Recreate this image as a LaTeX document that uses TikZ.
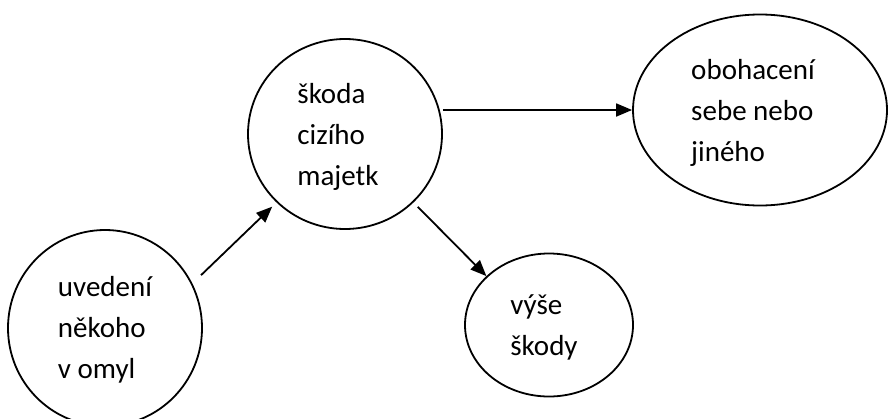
\documentclass[tikz,border=0pt]{standalone}
\usepackage{fontspec}
\setmainfont{Carlito}
\usetikzlibrary{shapes.geometric,arrows.meta}

\tikzset{every picture/.append style={x=1pt,y=-1pt}}
\tikzset{bubble/.style={draw, ellipse, line width=1.8pt, inner sep=0pt}}
\tikzset{words/.style={align=left, inner sep=0pt, font=\fontsize{29}{41}\selectfont}}
\tikzset{arrow/.style={line width=1.8pt, -{Triangle[length=16pt,width=13pt]}}}

\begin{document}
\begin{tikzpicture}
  \useasboundingbox (0,0) rectangle (888,418);
  \node[bubble, minimum width=194pt, minimum height=196pt] (uvedeni) at (105,328) {};
  \node[bubble, minimum width=194pt, minimum height=190pt] (skoda) at (345,134) {};
  \node[bubble, minimum width=254pt, minimum height=191pt] (obohaceni) at (760,110) {};
  \node[bubble, minimum width=168pt, minimum height=143pt] (vyse) at (549,325) {};
  \node[words] (uvedeni-t) at (105,330) {uvedení\\někoho\\v omyl};
  \node[words] (skoda-t) at (338,137) {škoda\\cizího\\majetk};
  \node[words] (obohaceni-t) at (753,113) {obohacení\\sebe nebo\\jiného};
  \node[words] (vyse-t) at (544,327) {výše\\škody};
  \draw[arrow, shorten <=12pt, shorten >=6pt] (uvedeni.27) -- (skoda.225);
  \draw[arrow] (skoda.east |- obohaceni.west) -- (obohaceni.west);
  \draw[arrow, shorten <=6pt] (skoda.315) -- (vyse.142);
\end{tikzpicture}
\end{document}
